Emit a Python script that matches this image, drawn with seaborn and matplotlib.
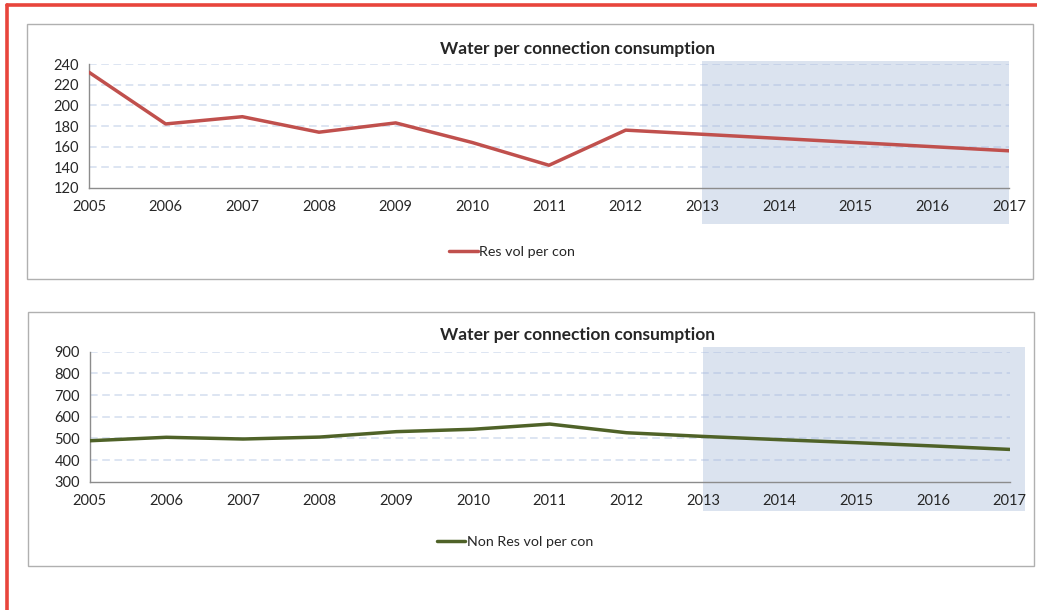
import pandas as pd
import matplotlib.pyplot as plt
import matplotlib as mpl
import matplotlib.transforms as mtransforms
import seaborn as sns

years = [2005, 2006, 2007, 2008, 2009, 2010, 2011, 2012, 2013, 2014, 2015, 2016, 2017]
res_vol = [232, 182, 189, 174, 183, 164, 142, 176, 172, 168, 164, 160, 156]
nonres_vol = [489, 505, 497, 506, 531, 542, 566, 526, 509, 494, 480, 465, 449]
title = "Water per connection consumption"
forecast_start = 2013

sns.set_style("white")
plt.rcParams['font.family'] = ['Lato', 'DejaVu Sans']
plt.rcParams['font.size'] = 10.5

GRID = '#9fb4dc'
SPINE = '#8c8c8c'
SHADE = '#dbe3ef'
BOX = '#b0b0b0'

fig = plt.figure(figsize=(10.37, 6.10), dpi=100)

# red frame (top + left only)
fig.add_artist(mpl.lines.Line2D([7 / 1037, 1.0], [1 - 5 / 610, 1 - 5 / 610], color='#e8453c', lw=2.6,
                                transform=fig.transFigure))
fig.add_artist(mpl.lines.Line2D([7 / 1037, 7 / 1037], [0.0, 1 - 5 / 610], color='#e8453c', lw=2.6,
                                transform=fig.transFigure))

# chart boxes
for (x0, y0, x1, y1) in [(27, 24, 1033, 279), (28, 312, 1034, 566)]:
    fig.add_artist(mpl.patches.Rectangle((x0 / 1037, 1 - y1 / 610), (x1 - x0) / 1037, (y1 - y0) / 610,
                                         transform=fig.transFigure, facecolor='none', edgecolor=BOX, lw=1))


def make_panel(rect, values, label, color, yticks, shade, title_y, legend_pos):
    ax = fig.add_axes(rect)
    df = pd.DataFrame({"Year": years, label: values})
    sns.lineplot(data=df, x="Year", y=label, color=color, linewidth=2.5, ax=ax, label=label, zorder=3)

    ax.set_xlim(years[0], years[-1])
    ax.set_ylim(yticks[0], yticks[-1])
    ax.set_xticks(years)
    ax.set_yticks(yticks)
    ax.set_xlabel("")
    ax.set_ylabel("")
    for y in yticks[1:]:
        ax.axhline(y, color=GRID, alpha=0.45, linestyle=(0, (5, 3)), linewidth=1.1, zorder=1)

    # forecast shading, spills under the tick labels like the Excel chart
    trans = mtransforms.blended_transform_factory(ax.transData, ax.transAxes)
    ax.add_patch(mpl.patches.Rectangle((forecast_start, shade[0]), shade[2] - forecast_start, shade[1] - shade[0],
                                       transform=trans, facecolor=SHADE, edgecolor='none', clip_on=False, zorder=0))

    for s in ['top', 'right']:
        ax.spines[s].set_visible(False)
    for s in ['left', 'bottom']:
        ax.spines[s].set_color(SPINE)
        ax.spines[s].set_linewidth(1)
    ax.tick_params(axis='both', direction='out', length=4, width=1, color=SPINE, labelsize=10.5, pad=3)
    ax.tick_params(axis='x', pad=5)
    ax.patch.set_alpha(0)

    fig.text(578 / 1037, 1 - title_y / 610, title, ha='center', va='center', fontsize=12.5, fontweight='bold')
    ax.legend(loc='center', bbox_to_anchor=legend_pos, bbox_transform=fig.transFigure, frameon=False,
              handlelength=2.0, handletextpad=0.1, fontsize=10.3)
    return ax


make_panel([89 / 1037, 1 - 188 / 610, 920 / 1037, 124 / 610], res_vol, "Res vol per con", '#c0504d',
           [120, 140, 160, 180, 200, 220, 240], (-0.29, 1.024, 2017.0), 48.7, (512 / 1037, 1 - 252 / 610))
make_panel([89.7 / 1037, 1 - 481.7 / 610, 920 / 1037, 130 / 610], nonres_vol, "Non Res vol per con", '#4f6228',
           [300, 400, 500, 600, 700, 800, 900], (-0.223, 1.036, 2017.2), 335, (515 / 1037, 1 - 542 / 610))

plt.savefig("out.png", dpi=100)
